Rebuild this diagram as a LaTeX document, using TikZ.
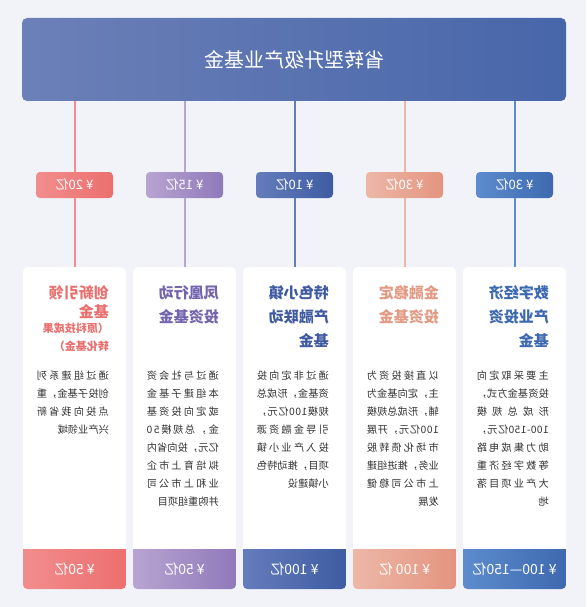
\documentclass[tikz,border=0pt]{standalone}
\usepackage{fontspec}
\setmainfont{Noto Sans CJK SC}
\definecolor{bgc}{HTML}{F1F3F8}
\definecolor{bodyc}{HTML}{333333}
\definecolor{bnA}{HTML}{6C80B8}
\definecolor{bnB}{HTML}{4766A9}
\definecolor{redA}{HTML}{F28D8D}
\definecolor{redB}{HTML}{EC6F6F}
\definecolor{redT}{HTML}{E9706F}
\definecolor{purA}{HTML}{B8A4D1}
\definecolor{purB}{HTML}{9079BA}
\definecolor{purT}{HTML}{7464AE}
\definecolor{dkbA}{HTML}{657CBC}
\definecolor{dkbB}{HTML}{3E5CA2}
\definecolor{dkbT}{HTML}{3F5AA0}
\definecolor{salA}{HTML}{EDB7A7}
\definecolor{salB}{HTML}{E3947F}
\definecolor{salT}{HTML}{E39A85}
\definecolor{bluA}{HTML}{5C8CCD}
\definecolor{bluB}{HTML}{3E69B0}
\definecolor{bluT}{HTML}{3C68B0}
\newlength\colw
\setlength\colw{72pt}
\def\spreadi#1{\ifx#1\relax\unskip\else#1\hfil\expandafter\spreadi\fi}
\def\jl#1{\makebox[\colw][s]{\spreadi#1\relax}}

\begin{document}
\begin{tikzpicture}[x=1pt,y=-1pt,
    flip/.style={xscale=-1},
    banner/.style={flip,rounded corners=5pt,minimum width=544pt,minimum height=83pt,left color=bnA,right color=bnB,text=white,font=\fontsize{20}{22}\selectfont},
    badge/.style={flip,rounded corners=4pt,minimum width=77pt,minimum height=26pt,inner sep=0pt,text=white,font=\fontsize{13}{14}\selectfont},
    card/.style={fill=white,rounded corners=5pt,minimum width=103pt,minimum height=322pt,inner sep=0pt},
    title/.style={flip,anchor=north west,align=left,inner sep=0pt,font=\bfseries\fontsize{15}{24}\selectfont},
    subtitle/.style={flip,anchor=north west,align=left,inner sep=0pt,font=\bfseries\fontsize{11}{18}\selectfont},
    body/.style={flip,anchor=north west,align=left,inner sep=0pt,text=bodyc,font=\fontsize{10.2}{18}\selectfont},
    amount/.style={flip,text=white,font=\fontsize{14}{16}\selectfont},
    link/.style={line width=2pt}]

    \path[use as bounding box,fill=bgc] (0,0) rectangle (586,607);

    \node[banner] (top) at (294,59.5) {省转型升级产业基金};

    % innovation fund
    \begin{scope}[xshift=74.5pt]
        \node[card] (card1) at (0,428) {};
        \begin{scope}
            \clip[rounded corners=5pt] (card1.north west) rectangle (card1.south east);
            \shade[left color=redA,right color=redB] (-51.5,549) rectangle (51.5,589);
        \end{scope}
        \node[badge,left color=redA,right color=redB] (badge1) at (0,185) {¥ 20亿};
        \draw[link,redA] (badge1 |- top.south) -- (badge1.north);
        \draw[link,redA] (badge1.south) -- (card1.north);
        \node[title,text=redT,font=\bfseries\fontsize{15}{19}\selectfont] (title1) at (34.5,285.5) {创新引领\\基金};
        \node[subtitle,text=redT] (sub1) at (34.5,322.5) {（原科技成果\\转化基金）};
        \node[body] (body1) at (34.5,371) {\jl{通过组建系列}\\\jl{创投子基金，重}\\\jl{点投向我省新}\\兴产业领域};
        \node[amount] (amt1) at (0,569) {¥ 50亿};
    \end{scope}

    % phoenix fund
    \begin{scope}[xshift=184.5pt]
        \node[card] (card2) at (0,428) {};
        \begin{scope}
            \clip[rounded corners=5pt] (card2.north west) rectangle (card2.south east);
            \shade[left color=purA,right color=purB] (-51.5,549) rectangle (51.5,589);
        \end{scope}
        \node[badge,left color=purA,right color=purB] (badge2) at (0,185) {¥ 15亿};
        \draw[link,purA] (badge2 |- top.south) -- (badge2.north);
        \draw[link,purA] (badge2.south) -- (card2.north);
        \node[title,text=purT] (title2) at (34.5,285.5) {凤凰行动\\投资基金};
        \node[body] (body2) at (34.5,371) {\jl{通过与社会资}\\\jl{本组建子基金}\\\jl{或定向投资基}\\\jl{金，总规模50}\\\jl{亿元，投向省内}\\\jl{拟培育上市企}\\\jl{业和上市公司}\\并购重组项目};
        \node[amount] (amt2) at (0,569) {¥ 50亿};
    \end{scope}

    % town fund
    \begin{scope}[xshift=294.5pt]
        \node[card] (card3) at (0,428) {};
        \begin{scope}
            \clip[rounded corners=5pt] (card3.north west) rectangle (card3.south east);
            \shade[left color=dkbA,right color=dkbB] (-51.5,549) rectangle (51.5,589);
        \end{scope}
        \node[badge,left color=dkbA,right color=dkbB] (badge3) at (0,185) {¥ 10亿};
        \draw[link,dkbA] (badge3 |- top.south) -- (badge3.north);
        \draw[link,dkbA] (badge3.south) -- (card3.north);
        \node[title,text=dkbT] (title3) at (34.5,285.5) {特色小镇\\产融联动\\基金};
        \node[body] (body3) at (34.5,371) {\jl{通过非定向投}\\\jl{资基金，形成总}\\\jl{规模100亿元，}\\\jl{引导金融资源}\\\jl{投入产业小镇}\\\jl{项目，推动特色}\\小镇建设};
        \node[amount] (amt3) at (0,569) {¥ 100亿};
    \end{scope}

    % stability fund
    \begin{scope}[xshift=404.5pt]
        \node[card] (card4) at (0,428) {};
        \begin{scope}
            \clip[rounded corners=5pt] (card4.north west) rectangle (card4.south east);
            \shade[left color=salA,right color=salB] (-51.5,549) rectangle (51.5,589);
        \end{scope}
        \node[badge,left color=salA,right color=salB] (badge4) at (0,185) {¥ 30亿};
        \draw[link,salA] (badge4 |- top.south) -- (badge4.north);
        \draw[link,salA] (badge4.south) -- (card4.north);
        \node[title,text=salT] (title4) at (34.5,285.5) {金融稳定\\投资基金};
        \node[body] (body4) at (34.5,371) {\jl{以直接投资为}\\\jl{主，定向基金为}\\\jl{辅，形成总规模}\\\jl{100亿元，开展}\\\jl{市场化债转股}\\\jl{业务，推进组建}\\\jl{上市公司稳健}\\发展};
        \node[amount] (amt4) at (0,569) {¥ 100 亿};
    \end{scope}

    % digital fund
    \begin{scope}[xshift=514.5pt]
        \node[card] (card5) at (0,428) {};
        \begin{scope}
            \clip[rounded corners=5pt] (card5.north west) rectangle (card5.south east);
            \shade[left color=bluA,right color=bluB] (-51.5,549) rectangle (51.5,589);
        \end{scope}
        \node[badge,left color=bluA,right color=bluB] (badge5) at (0,185) {¥ 30亿};
        \draw[link,bluA] (badge5 |- top.south) -- (badge5.north);
        \draw[link,bluA] (badge5.south) -- (card5.north);
        \node[title,text=bluT] (title5) at (34.5,285.5) {数字经济\\产业投资\\基金};
        \node[body] (body5) at (34.5,371) {\jl{主要采取定向}\\\jl{投资基金方式，}\\\jl{形成总规模}\\\jl{100-150亿元，}\\\jl{助力集成电路}\\\jl{等数字经济重}\\\jl{大产业项目落}\\地};
        \node[amount] (amt5) at (0,569) {¥ 100—150亿};
    \end{scope}

\end{tikzpicture}
\end{document}
